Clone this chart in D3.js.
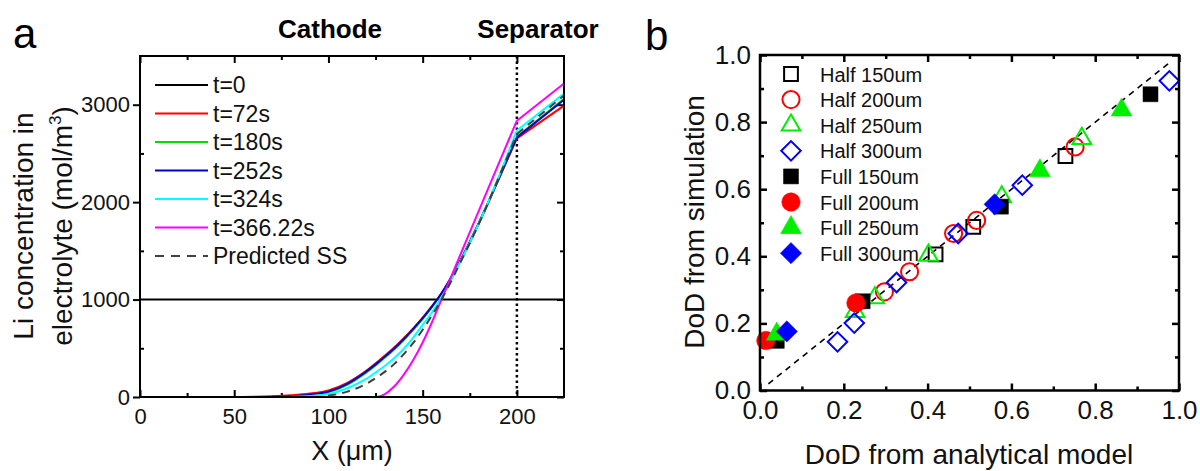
<!DOCTYPE html>
<html>
<head>
<meta charset="utf-8">
<script src="https://cdn.jsdelivr.net/npm/d3@7"></script>
<style>
  body { margin: 0; background: #fff; }
  svg { font-family: Arial, "Liberation Sans", sans-serif; }
</style>
</head>
<body>
<svg id="chart" width="1200" height="471"></svg>
<script>
// ---- panel a data: Li concentration profiles (x in um, c in mol/m3)
var xPos = [0, 50, 60, 70, 80, 90, 100, 110, 120, 126, 130, 135, 140, 145, 150, 155, 160, 170, 180, 190, 200, 225];
var cT0x = [0, 225];
var cT0 = [1000, 1000];
var cT72 = [0, 0, 2, 8, 18, 35, 68, 145, 268, 360, 425, 510, 605, 705, 815, 935, 1065, 1400, 1790, 2220, 2655, 2990];
var cT180 = [null, null, null, 1, 6, 20, 48, 125, 250, 340, 405, 490, 585, 690, 800, 925, 1060, 1400, 1795, 2225, 2670, 3060];
var cT252 = [null, null, null, 2, 8, 24, 55, 135, 260, 350, 415, 500, 595, 700, 810, 930, 1065, 1400, 1795, 2225, 2665, 3050];
var cT324 = [null, null, null, null, 2, 10, 30, 90, 185, 265, 320, 400, 495, 610, 740, 870, 1020, 1390, 1790, 2245, 2735, 3115];
var cT366 = [null, null, null, null, null, null, null, null, null, 0, 30, 110, 230, 380, 560, 770, 1000, 1460, 1920, 2380, 2836, 3217];
var cSS = [null, null, null, null, null, null, 12, 55, 135, 205, 260, 340, 440, 555, 690, 840, 1000, 1380, 1785, 2235, 2700, 3095];
var legendA = ["t=0", "t=72s", "t=180s", "t=252s", "t=324s", "t=366.22s", "Predicted SS"];
var colorsA = ["#000000", "#ff0000", "#00e000", "#0000d0", "#00ffff", "#ff00ff", "#404040"];
var xTicksA = [0, 50, 100, 150, 200];
var yTicksA = [0, 1000, 2000, 3000];

// ---- panel b data: DoD simulation vs analytical model
var seriesB = ["Half 150um", "Half 200um", "Half 250um", "Half 300um", "Full 150um", "Full 200um", "Full 250um", "Full 300um"];
var half150X = [0.419, 0.509, 0.729];
var half150Y = [0.406, 0.488, 0.699];
var half200X = [0.297, 0.357, 0.462, 0.517, 0.752];
var half200Y = [0.294, 0.354, 0.468, 0.507, 0.726];
var half250X = [0.227, 0.274, 0.402, 0.577, 0.768];
var half250Y = [0.235, 0.276, 0.403, 0.577, 0.751];
var half300X = [0.185, 0.225, 0.326, 0.473, 0.626, 0.977];
var half300Y = [0.145, 0.201, 0.322, 0.468, 0.612, 0.923];
var full150X = [0.04, 0.245, 0.575, 0.932];
var full150Y = [0.148, 0.266, 0.548, 0.883];
var full200X = [0.014, 0.229];
var full200Y = [0.149, 0.261];
var full250X = [0.04, 0.668, 0.863];
var full250Y = [0.168, 0.655, 0.836];
var full300X = [0.064, 0.56];
var full300Y = [0.176, 0.555];
var diagX = [0.02, 0.98];
var diagY = [0.02, 0.98];
var ticksB = [0.0, 0.2, 0.4, 0.6, 0.8, 1.0];

var svg = d3.select("#chart");

// ================= panel a =================
var xA = d3.scaleLinear().domain([0, 225]).range([140, 564]);
var yA = d3.scaleLinear().domain([0, 3500]).range([397, 56]);

svg.append("clipPath").attr("id", "clipA")
  .append("rect").attr("x", 140).attr("y", 56).attr("width", 424).attr("height", 341);

var gA = svg.append("g");

// minor/major ticks
gA.append("g").attr("transform", "translate(0,397)")
  .call(d3.axisBottom(xA).tickValues(xTicksA).tickSizeInner(-7).tickSizeOuter(0).tickPadding(11))
  .call(g => g.select(".domain").remove())
  .call(g => g.selectAll("text").attr("font-size", 22).attr("fill", "#111"));
gA.append("g").attr("transform", "translate(0,397)")
  .call(d3.axisBottom(xA).tickValues([25, 75, 125, 175]).tickSize(-4).tickFormat(""))
  .call(g => g.select(".domain").remove());
gA.append("g").attr("transform", "translate(0,56)")
  .call(d3.axisTop(xA).tickValues(xTicksA).tickSize(-7).tickFormat(""))
  .call(g => g.select(".domain").remove());
gA.append("g").attr("transform", "translate(0,56)")
  .call(d3.axisTop(xA).tickValues([25, 75, 125, 175]).tickSize(-4).tickFormat(""))
  .call(g => g.select(".domain").remove());
gA.append("g").attr("transform", "translate(140,0)")
  .call(d3.axisLeft(yA).tickValues(yTicksA).tickSizeInner(7).tickSizeOuter(0).tickPadding(3).tickFormat(d3.format("d")))
  .call(g => g.select(".domain").remove())
  .call(g => g.selectAll("text").attr("font-size", 22).attr("fill", "#111"));
gA.append("g").attr("transform", "translate(140,0)")
  .call(d3.axisLeft(yA).tickValues([500, 1500, 2500]).tickSize(-4).tickFormat(""))
  .call(g => g.select(".domain").remove());
gA.append("g").attr("transform", "translate(564,0)")
  .call(d3.axisRight(yA).tickValues(yTicksA).tickSize(-7).tickFormat(""))
  .call(g => g.select(".domain").remove());
gA.append("g").attr("transform", "translate(564,0)")
  .call(d3.axisRight(yA).tickValues([500, 1500, 2500]).tickSize(-4).tickFormat(""))
  .call(g => g.select(".domain").remove());
gA.selectAll(".tick line").attr("stroke", "#000").attr("stroke-width", 2);

// separator dotted line
gA.append("line")
  .attr("x1", xA(200)).attr("x2", xA(200)).attr("y1", yA(3500)).attr("y2", yA(0))
  .attr("stroke", "#000").attr("stroke-width", 2.5).attr("stroke-dasharray", "2.5,3");

// smooth inside the cathode, straight across the separator
var lineSmooth = d3.line()
  .defined(d => d[1] != null)
  .x(d => xA(d[0])).y(d => yA(d[1]))
  .curve(d3.curveMonotoneX);
var lineStraight = d3.line()
  .x(d => xA(d[0])).y(d => yA(d[1]));

var curves = [
  { xs: cT0x, ys: cT0, c: colorsA[0] },
  { xs: xPos, ys: cT72, c: colorsA[1] },
  { xs: xPos, ys: cT180, c: colorsA[2] },
  { xs: xPos, ys: cT252, c: colorsA[3] },
  { xs: xPos, ys: cT324, c: colorsA[4] },
  { xs: xPos, ys: cT366, c: colorsA[5] },
  { xs: xPos, ys: cSS, c: colorsA[6], dash: "8,6" }
];
curves.forEach(function (s) {
  var pts = s.xs.map((x, i) => [x, s.ys[i]]);
  var d;
  if (pts.length > 2) {
    d = lineSmooth(pts.filter(p => p[0] <= 200)) + lineStraight(pts.filter(p => p[0] >= 200));
  } else {
    d = lineStraight(pts);
  }
  gA.append("path")
    .attr("clip-path", "url(#clipA)")
    .attr("d", d)
    .attr("fill", "none")
    .attr("stroke", s.c)
    .attr("stroke-width", 2)
    .attr("stroke-dasharray", s.dash || null);
});

// frame
gA.append("rect").attr("x", 140).attr("y", 56).attr("width", 424).attr("height", 341)
  .attr("fill", "none").attr("stroke", "#000").attr("stroke-width", 2);

// legend a
legendA.forEach(function (name, i) {
  var cy = 85 + i * 28.5;
  gA.append("line").attr("x1", 155).attr("x2", 208).attr("y1", cy).attr("y2", cy)
    .attr("stroke", colorsA[i]).attr("stroke-width", 2)
    .attr("stroke-dasharray", i == 6 ? "9,7" : null);
  gA.append("text").attr("x", 213).attr("y", cy + 8).attr("font-size", 23).attr("fill", "#111").text(name);
});

// labels a
svg.append("text").attr("x", 13).attr("y", 48).attr("font-size", 42).text("a");
svg.append("text").attr("x", 330).attr("y", 38).attr("text-anchor", "middle")
  .attr("font-size", 26).attr("font-weight", "bold").text("Cathode");
svg.append("text").attr("x", 538).attr("y", 38).attr("text-anchor", "middle")
  .attr("font-size", 26).attr("font-weight", "bold").text("Separator");
svg.append("text").attr("x", 352).attr("y", 460).attr("text-anchor", "middle")
  .attr("font-size", 27).attr("fill", "#111").text("X (μm)");
var yLab = svg.append("text").attr("transform", "translate(33,226) rotate(-90)")
  .attr("text-anchor", "middle").attr("font-size", 28).attr("fill", "#111");
yLab.append("tspan").attr("x", 0).attr("dy", 0).text("Li concentration in");
var l2 = yLab.append("tspan").attr("x", 0).attr("dy", 39).text("electrolyte (mol/m");
l2.append("tspan").attr("font-size", 17).attr("dy", -11).text("3");
l2.append("tspan").attr("dy", 11).text(")");

// ================= panel b =================
var xB = d3.scaleLinear().domain([0, 1]).range([760, 1179]);
var yB = d3.scaleLinear().domain([0, 1]).range([390.5, 55]);
var gB = svg.append("g");
var minorB = [0.1, 0.3, 0.5, 0.7, 0.9];

gB.append("g").attr("transform", "translate(0,390.5)")
  .call(d3.axisBottom(xB).tickValues(ticksB).tickSizeInner(-7).tickSizeOuter(0).tickPadding(10).tickFormat(d3.format(".1f")))
  .call(g => g.select(".domain").remove())
  .call(g => g.selectAll("text").attr("font-size", 26).attr("fill", "#111"));
gB.append("g").attr("transform", "translate(0,390.5)")
  .call(d3.axisBottom(xB).tickValues(minorB).tickSize(-4).tickFormat(""))
  .call(g => g.select(".domain").remove());
gB.append("g").attr("transform", "translate(0,55)")
  .call(d3.axisTop(xB).tickValues(ticksB).tickSize(-7).tickFormat(""))
  .call(g => g.select(".domain").remove());
gB.append("g").attr("transform", "translate(0,55)")
  .call(d3.axisTop(xB).tickValues(minorB).tickSize(-4).tickFormat(""))
  .call(g => g.select(".domain").remove());
gB.append("g").attr("transform", "translate(760,0)")
  .call(d3.axisLeft(yB).tickValues(ticksB).tickSizeInner(-7).tickSizeOuter(0).tickPadding(9).tickFormat(d3.format(".1f")))
  .call(g => g.select(".domain").remove())
  .call(g => g.selectAll("text").attr("font-size", 26).attr("fill", "#111"));
gB.append("g").attr("transform", "translate(760,0)")
  .call(d3.axisLeft(yB).tickValues(minorB).tickSize(-4).tickFormat(""))
  .call(g => g.select(".domain").remove());
gB.append("g").attr("transform", "translate(1179,0)")
  .call(d3.axisRight(yB).tickValues(ticksB).tickSize(-7).tickFormat(""))
  .call(g => g.select(".domain").remove());
gB.append("g").attr("transform", "translate(1179,0)")
  .call(d3.axisRight(yB).tickValues(minorB).tickSize(-4).tickFormat(""))
  .call(g => g.select(".domain").remove());
gB.selectAll(".tick line").attr("stroke", "#000").attr("stroke-width", 2.5);

// diagonal dashed line
gB.append("path")
  .datum(diagX.map((x, i) => [x, diagY[i]]))
  .attr("d", d3.line().x(d => xB(d[0])).y(d => yB(d[1])))
  .attr("stroke", "#000").attr("stroke-width", 1.6).attr("stroke-dasharray", "6,5").attr("fill", "none");

var specs = [
  { xs: half150X, ys: half150Y, type: d3.symbolSquare, size: 190, rot: 0, c: "#000", fill: false },
  { xs: half200X, ys: half200Y, type: d3.symbolCircle, size: 230, rot: 0, c: "#ff0000", fill: false },
  { xs: half250X, ys: half250Y, type: d3.symbolTriangle, size: 150, rot: 0, c: "#00ee00", fill: false },
  { xs: half300X, ys: half300Y, type: d3.symbolSquare, size: 190, rot: 45, c: "#0000ff", fill: false },
  { xs: full150X, ys: full150Y, type: d3.symbolSquare, size: 225, rot: 0, c: "#000", fill: true },
  { xs: full200X, ys: full200Y, type: d3.symbolCircle, size: 270, rot: 0, c: "#ff0000", fill: true },
  { xs: full250X, ys: full250Y, type: d3.symbolTriangle, size: 190, rot: 0, c: "#00ee00", fill: true },
  { xs: full300X, ys: full300Y, type: d3.symbolSquare, size: 225, rot: 45, c: "#0000ff", fill: true }
];

function drawMarker(g, s, px, py) {
  g.append("path")
    .attr("d", d3.symbol().type(s.type).size(s.size)())
    .attr("transform", "translate(" + px + "," + py + ") rotate(" + s.rot + ")")
    .attr("fill", s.fill ? s.c : "none")
    .attr("stroke", s.c)
    .attr("stroke-width", s.fill ? 0.5 : 2);
}

specs.forEach(function (s) {
  s.xs.forEach(function (x, i) { drawMarker(gB, s, xB(x), yB(s.ys[i])); });
});

// frame
gB.append("rect").attr("x", 760).attr("y", 55).attr("width", 419).attr("height", 335.5)
  .attr("fill", "none").attr("stroke", "#000").attr("stroke-width", 2.5);

// legend b
seriesB.forEach(function (name, i) {
  var cy = 74 + i * 25.6;
  drawMarker(gB, specs[i], 791, cy);
  gB.append("text").attr("x", 820).attr("y", cy + 7.5).attr("font-size", 20).attr("fill", "#111").text(name);
});

svg.append("text").attr("x", 645).attr("y", 50).attr("font-size", 42).text("b");
svg.append("text").attr("x", 969).attr("y", 464).attr("text-anchor", "middle")
  .attr("font-size", 28).attr("fill", "#111").text("DoD from analytical model");
svg.append("text").attr("transform", "translate(704,222) rotate(-90)")
  .attr("text-anchor", "middle").attr("font-size", 28).attr("fill", "#111").text("DoD from simulation");
</script>
</body>
</html>
